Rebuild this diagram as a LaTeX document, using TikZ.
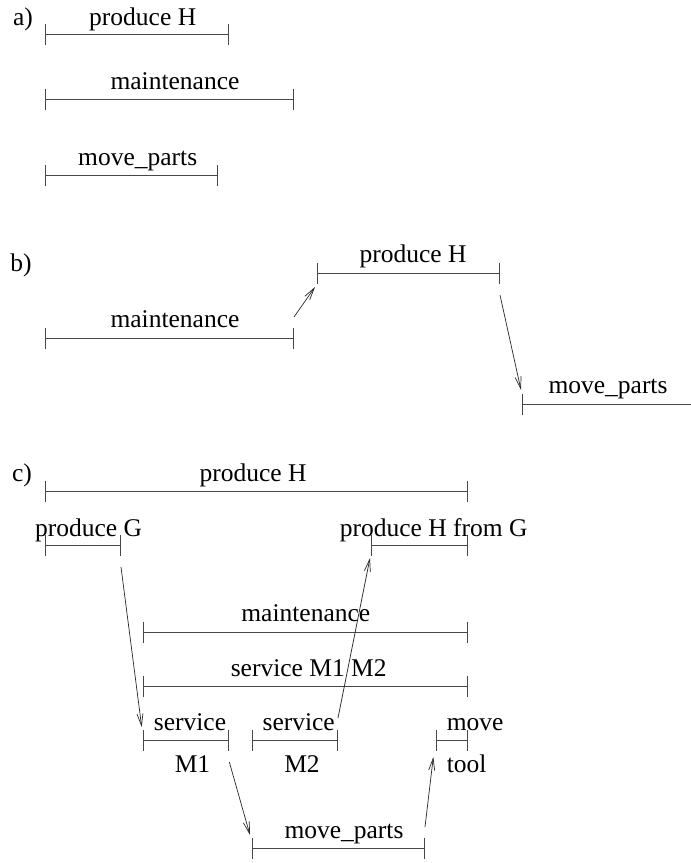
\documentclass[tikz,border=0pt]{standalone}
\usepackage{fontspec}
\setmainfont{Liberation Serif}
\usetikzlibrary{arrows.meta}
\begin{document}
\begin{tikzpicture}[x=1pt,y=-1pt,
  interval/.style={draw=black!72, line width=1pt, {Bar[width=21pt]}-{Bar[width=21pt]}},
  openinterval/.style={draw=black!72, line width=1pt, {Bar[width=21pt]}-},
  lbl/.style={font=\fontsize{25.5}{30}\selectfont, inner sep=0pt, anchor=base},
  lblw/.style={lbl, anchor=base west},
  link/.style={draw=black!85, line width=0.7pt, -{Straight Barb[length=12pt,width=6pt]}},
]
\useasboundingbox (0,0) rectangle (691,863);

% ---------- a) ----------
\node[lbl] (la) at (23,25) {a)};
\coordinate (aH1) at (45,34.5);  \coordinate (aH2) at (229.3,34.5);
\draw[interval] (aH1) -- (aH2);
\node[lbl] (taH) at (142.7,25) {produce H};
\coordinate (aM1) at (45,99.5);  \coordinate (aM2) at (294.3,99.5);
\draw[interval] (aM1) -- (aM2);
\node[lbl] (taM) at (175,89.5) {maintenance};
\coordinate (aP1) at (45,175.5); \coordinate (aP2) at (218.3,175.5);
\draw[interval] (aP1) -- (aP2);
\node[lbl] (taP) at (137.7,165.5) {move\_parts};

% ---------- b) ----------
\node[lbl] (lb) at (21,271) {b)};
\coordinate (bH1) at (317,273);  \coordinate (bH2) at (500,273);
\draw[interval] (bH1) -- (bH2);
\node[lbl] (tbH) at (413,262) {produce H};
\coordinate (bM1) at (45,338);   \coordinate (bM2) at (294,338);
\draw[interval] (bM1) -- (bM2);
\node[lbl] (tbM) at (175,327.5) {maintenance};
\coordinate (bP1) at (522,404);  \coordinate (bP2) at (691,404);
\draw[openinterval] (bP1) -- (bP2);
\node[lbl] (tbP) at (608,393.5) {move\_parts};
\coordinate (bs1) at (294,317);  \coordinate (be1) at (315,287);
\draw[link] (bs1) -- (be1);
\coordinate (bs2) at (500,295);  \coordinate (be2) at (521,390);
\draw[link] (bs2) -- (be2);

% ---------- c) ----------
\node[lbl] (lc) at (22,481) {c)};
\coordinate (cH1) at (45,491);   \coordinate (cH2) at (467.5,491);
\draw[interval] (cH1) -- (cH2);
\node[lbl] (tcH) at (253,481) {produce H};
\coordinate (cG1) at (45,545);   \coordinate (cG2) at (121,545);
\draw[interval] (cG1) -- (cG2);
\node[lbl] (tcG) at (88.5,536) {produce G};
\coordinate (cF1) at (371,545);  \coordinate (cF2) at (467.5,545);
\draw[interval] (cF1) -- (cF2);
\node[lbl] (tcF) at (433.6,536) {produce H from G};
\coordinate (cM1) at (143,632);  \coordinate (cM2) at (467.5,632);
\draw[interval] (cM1) -- (cM2);
\node[lbl] (tcM) at (305.8,621.7) {maintenance};
\coordinate (cS1) at (143,686.7); \coordinate (cS2) at (467.5,686.7);
\draw[interval] (cS1) -- (cS2);
\node[lbl] (tcS) at (308.7,676.7) {service M1 M2};
\coordinate (cA1) at (143,740.7); \coordinate (cA2) at (229.3,740.7);
\draw[interval] (cA1) -- (cA2);
\node[lbl] (tcA) at (190,730) {service};
\node[lbl] (tcAb) at (192.5,772.7) {M1};
\coordinate (cB1) at (251.7,740.7); \coordinate (cB2) at (338,740.7);
\draw[interval] (cB1) -- (cB2);
\node[lbl] (tcB) at (298.7,730) {service};
\node[lbl] (tcBb) at (302,772.7) {M2};
\coordinate (cT1) at (435.7,740.7); \coordinate (cT2) at (467.5,740.7);
\draw[interval] (cT1) -- (cT2);
\node[lblw] (tcT) at (446.7,730) {move};
\node[lblw] (tcTb) at (446.7,772.7) {tool};
\coordinate (cP1) at (251.7,848.3); \coordinate (cP2) at (425,848.3);
\draw[interval] (cP1) -- (cP2);
\node[lbl] (tcP) at (344,838.3) {move\_parts};

\coordinate (cs1) at (121,567);   \coordinate (ce1) at (141.7,727);
\draw[link] (cs1) -- (ce1);
\coordinate (cs2) at (338,718);   \coordinate (ce2) at (370,558);
\draw[link] (cs2) -- (ce2);
\coordinate (cs3) at (229.3,762); \coordinate (ce3) at (250,835);
\draw[link] (cs3) -- (ce3);
\coordinate (cs4) at (425,827);   \coordinate (ce4) at (433.3,757);
\draw[link] (cs4) -- (ce4);
\end{tikzpicture}
\end{document}
